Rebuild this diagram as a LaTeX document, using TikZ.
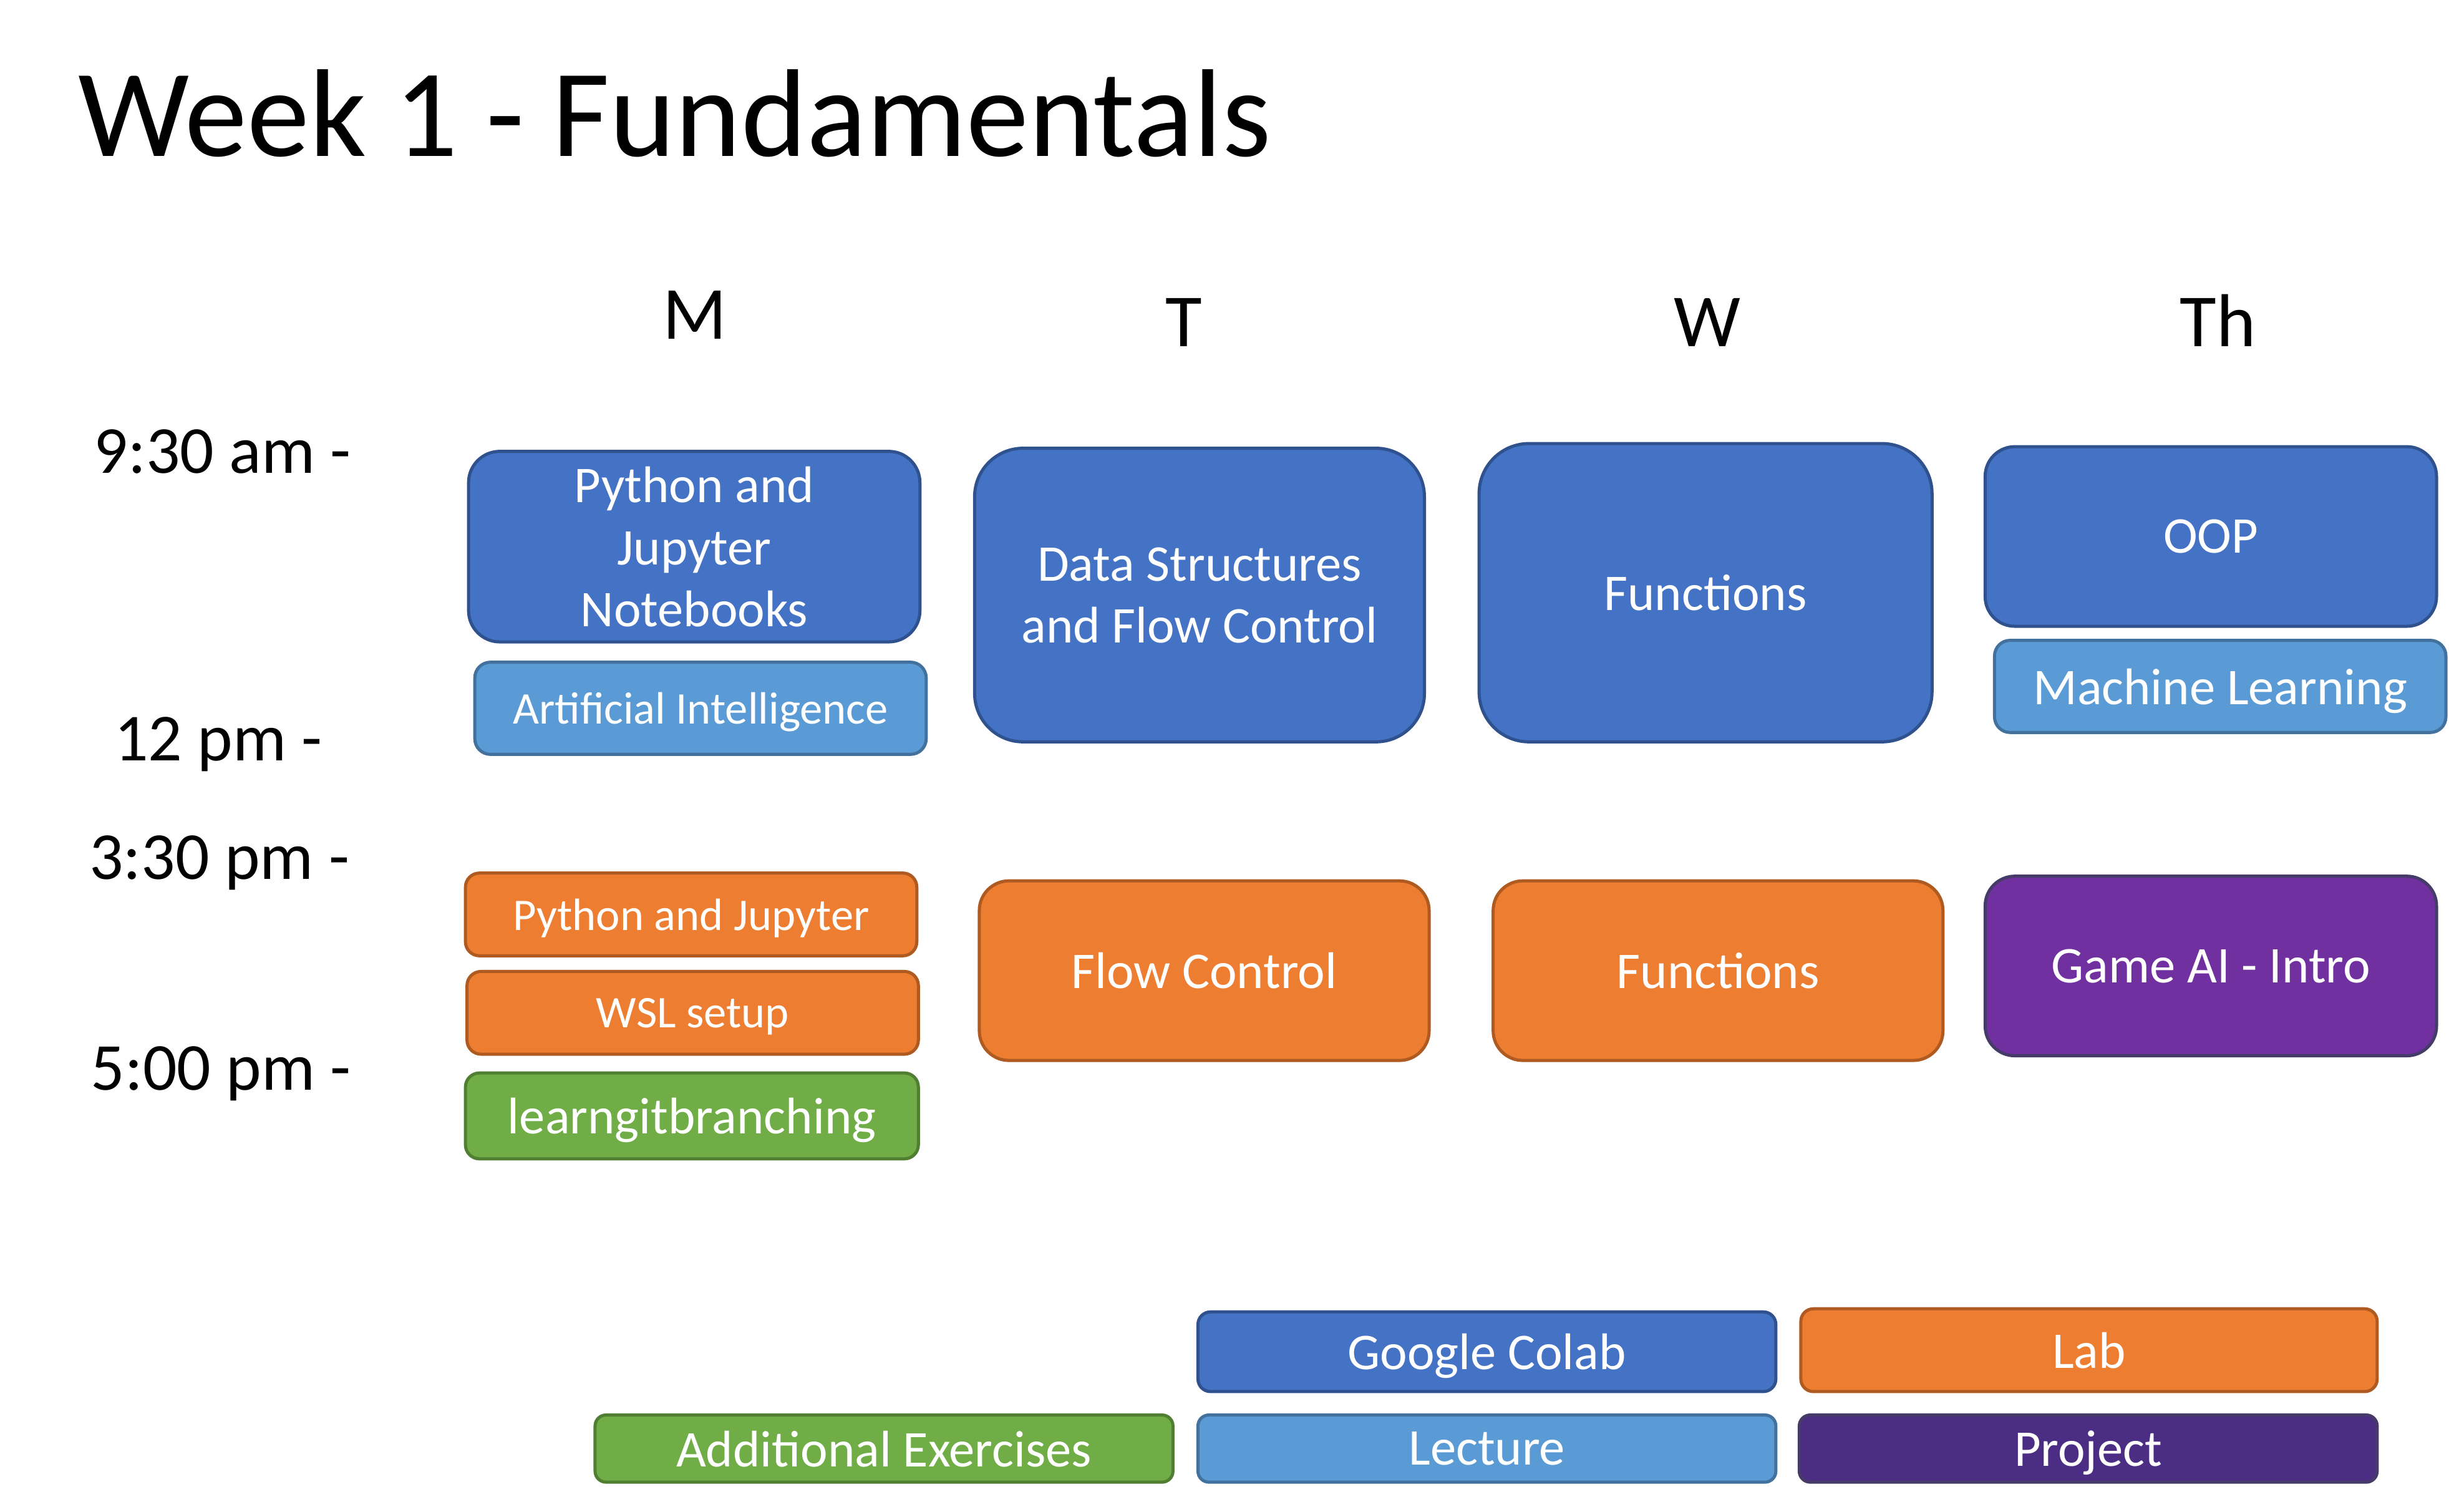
\documentclass[tikz,border=0pt]{standalone}
\usepackage{fontspec}
\setmainfont{Carlito}
\definecolor{lecblue}{HTML}{4472C4}
\definecolor{lecblueline}{HTML}{2F528F}
\definecolor{topicblue}{HTML}{5B9BD5}
\definecolor{topicblueline}{HTML}{41719C}
\definecolor{laborange}{HTML}{ED7D31}
\definecolor{laborangeline}{HTML}{AE5A21}
\definecolor{extragreen}{HTML}{70AD47}
\definecolor{extragreenline}{HTML}{507E32}
\definecolor{gamepurple}{HTML}{7030A0}
\definecolor{projpurple}{HTML}{4B2D83}
\definecolor{purpleline}{HTML}{453A68}
\tikzset{
  slot/.style={draw, line width=2pt, text=white, inner sep=0pt, align=center,
    text depth=0pt, font=\fontsize{33}{39.6}\selectfont},
  lecslot/.style={slot, fill=lecblue, draw=lecblueline},
  topicslot/.style={slot, fill=topicblue, draw=topicblueline},
  labslot/.style={slot, fill=laborange, draw=laborangeline},
  extraslot/.style={slot, fill=extragreen, draw=extragreenline},
  gameslot/.style={slot, fill=gamepurple, draw=purpleline},
  projslot/.style={slot, fill=projpurple, draw=purpleline},
  dayname/.style={anchor=base, font=\fontsize{48}{58}\selectfont},
  timename/.style={anchor=base west, font=\fontsize{43}{52}\selectfont},
}
\begin{document}
\begin{tikzpicture}[x=1pt, y=-1pt]
\useasboundingbox (0,0) rectangle (1568,968);
% title
\node[anchor=base west, inner sep=0pt, font=\fontsize{80}{96}\selectfont] (title) at (50,100) {Week 1 - Fundamentals};
% days
\node[dayname] (mon) at (445,217) {M};
\node[dayname] (tue) at (758,222) {T};
\node[dayname] (wed) at (1093,222) {W};
\node[dayname] (thu) at (1420,222) {Th};
% times
\node[timename, inner sep=0pt] (t930) at (60,303) {9:30 am -};
\node[timename, inner sep=0pt] (t12) at (73,487) {12 pm -};
\node[timename, inner sep=0pt] (t330) at (57,563) {3:30 pm -};
\node[timename, inner sep=0pt] (t500) at (58,698) {5:00 pm -};
% monday
\node[lecslot, rounded corners=20pt, minimum width=289pt, minimum height=122pt] (monpy) at (444.5,350) {Python and\\Jupyter\\Notebooks};
\node[topicslot, rounded corners=10pt, minimum width=289pt, minimum height=59pt, font=\fontsize{29}{35}\selectfont] (monai) at (448.5,453.5) {Artificial Intelligence};
\node[labslot, rounded corners=9pt, minimum width=289pt, minimum height=53pt, font=\fontsize{29}{35}\selectfont] (monlab) at (442.5,585.5) {Python and Jupyter};
\node[labslot, rounded corners=9pt, minimum width=289pt, minimum height=53pt, font=\fontsize{29}{35}\selectfont] (monwsl) at (443.5,648.5) {WSL setup};
\node[extraslot, rounded corners=9pt, minimum width=290pt, minimum height=55pt] (mongit) at (443,714.5) {learngitbranching};
% tuesday
\node[lecslot, rounded corners=31pt, minimum width=288pt, minimum height=188pt] (tueds) at (768,381) {Data Structures\\and Flow Control};
\node[labslot, rounded corners=19pt, minimum width=288pt, minimum height=115pt] (tuelab) at (771,621.5) {Flow Control};
% wednesday
\node[lecslot, rounded corners=32pt, minimum width=290pt, minimum height=191pt] (wedfn) at (1092,379.5) {Functions};
\node[labslot, rounded corners=19pt, minimum width=288pt, minimum height=115pt] (wedlab) at (1100,621.5) {Functions};
% thursday
\node[lecslot, rounded corners=19pt, minimum width=289pt, minimum height=115pt] (thuoop) at (1415.5,343.5) {OOP};
\node[topicslot, rounded corners=10pt, minimum width=289pt, minimum height=59pt] (thuml) at (1421.5,439.5) {Machine Learning};
\node[gameslot, rounded corners=19pt, minimum width=289pt, minimum height=115pt] (thugame) at (1415.5,618.5) {Game AI - Intro};
% legend
\node[lecslot, rounded corners=8pt, minimum width=370pt, minimum height=51pt] (keycolab) at (952,865.5) {Google Colab};
\node[labslot, rounded corners=8pt, minimum width=369pt, minimum height=53pt] (keylab) at (1337.5,864.5) {Lab};
\node[extraslot, rounded corners=7pt, minimum width=370pt, minimum height=43pt] (keyextra) at (566,927.5) {Additional Exercises};
\node[topicslot, rounded corners=7pt, minimum width=370pt, minimum height=43pt] (keylec) at (952,927.5) {Lecture};
\node[projslot, rounded corners=7pt, minimum width=370pt, minimum height=43pt] (keyproj) at (1337,927.5) {Project};
\end{tikzpicture}
\end{document}
